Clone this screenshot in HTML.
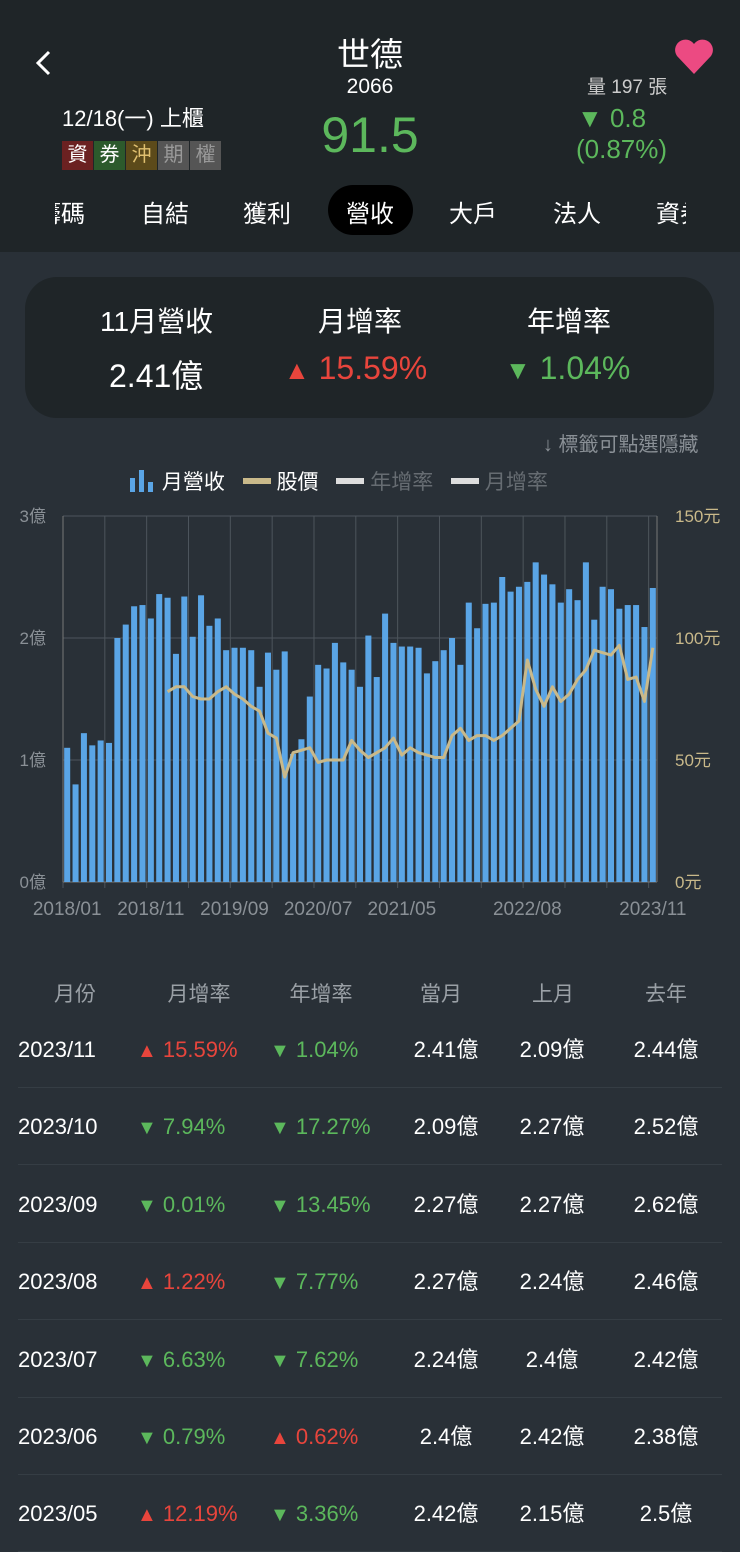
<!DOCTYPE html>
<html><head><meta charset="utf-8">
<style>
*{margin:0;padding:0;box-sizing:border-box}
body{width:740px;height:1531px;overflow:hidden;background:#293037;font-family:"Liberation Sans","Noto Sans CJK TC",sans-serif;color:#fff;position:relative}
.abs{position:absolute;white-space:nowrap}
.hdr{position:absolute;left:0;top:0;width:740px;height:252px;background:#1f2528}
.tag{display:inline-block;width:31px;height:29px;line-height:29px;text-align:center;font-size:20px;margin-right:1px}
.tab{position:absolute;top:194px;font-size:24px;color:#fff;white-space:nowrap}
.card{position:absolute;left:25px;top:277px;width:689px;height:141px;border-radius:32px;background:#1f2528}
.g{color:#5cb85c}.r{color:#e8453c}
.th{position:absolute;top:978px;font-size:21px;color:#9aa0a6;transform:translateX(-50%);white-space:nowrap}
.row{position:absolute;left:18px;width:704px;height:77px;border-bottom:1px solid #353d44}
.row span{position:absolute;top:24px;height:30px;line-height:30px;font-size:22px;white-space:nowrap}
.row small{font-size:20px;line-height:20px;vertical-align:baseline}
</style></head><body>
<div class="hdr"></div>
<svg class="abs" style="left:32px;top:48px" width="24" height="30"><polyline points="17,4 6,15 17,26" fill="none" stroke="#fff" stroke-width="3"/></svg>
<div class="abs" style="left:0;width:740px;text-align:center;top:28px;font-size:33px">世德</div>
<div class="abs" style="left:0;width:740px;text-align:center;top:75px;font-size:21px">2066</div>
<div class="abs g" style="left:0;width:740px;text-align:center;top:106px;font-size:50px">91.5</div>
<div class="abs" style="left:62px;top:101px;font-size:22px">12/18(一) 上櫃</div>
<div class="abs" style="left:62px;top:141px"><span class="tag" style="background:#6b2121">資</span><span class="tag" style="background:#2c5a2c">券</span><span class="tag" style="background:#5c4a1a;color:#e0c070">沖</span><span class="tag" style="background:#555;color:#999">期</span><span class="tag" style="background:#555;color:#999">權</span></div>
<svg class="abs" style="left:673px;top:38px" width="42" height="38"><path d="M21 36 L4 18 A10 10 0 0 1 21 6 A10 10 0 0 1 38 18 Z" fill="#ec4a82"/></svg>
<div class="abs" style="left:587px;top:72px;font-size:19px;color:#ccc">量 197 張</div>
<div class="abs g" style="left:577px;top:103px;font-size:26px">▼ 0.8</div>
<div class="abs g" style="left:576px;top:134px;font-size:26px">(0.87%)</div>
<div class="abs" style="left:328px;top:185px;width:85px;height:50px;border-radius:25px;background:#000"></div>
<div class="tab" style="left:55px;width:30px;overflow:hidden"><span style="display:inline-block;margin-left:-18px">籌碼</span></div>
<div class="tab" style="left:141px">自結</div>
<div class="tab" style="left:243px">獲利</div>
<div class="tab" style="left:346px">營收</div>
<div class="tab" style="left:449px">大戶</div>
<div class="tab" style="left:553px">法人</div>
<div class="tab" style="left:656px;width:30px;overflow:hidden">資券</div>

<div class="card"></div>
<div class="abs" style="left:100px;top:300px;font-size:28px">11月營收</div>
<div class="abs" style="left:109px;top:351px;font-size:32px">2.41億</div>
<div class="abs" style="left:318px;top:300px;font-size:28px">月增率</div>
<div class="abs r" style="left:284px;top:350px;font-size:32px"><span style="font-size:26px">▲</span> 15.59%</div>
<div class="abs" style="left:527px;top:300px;font-size:28px">年增率</div>
<div class="abs g" style="left:505px;top:350px;font-size:32px"><span style="font-size:26px">▼</span> 1.04%</div>
<div class="abs" style="left:543px;top:428px;font-size:20px;color:#8a9096">↓ 標籤可點選隱藏</div>
<div class="abs" style="left:130px;top:466px;font-size:21px">
<span><svg width="26" height="22" style="vertical-align:-3px"><rect x="0" y="8" width="5" height="14" fill="#5aa5e6"/><rect x="9" y="0" width="5" height="22" fill="#5aa5e6"/><rect x="18" y="12" width="5" height="10" fill="#5aa5e6"/></svg> 月營收</span>
<span style="margin-left:12px"><span style="display:inline-block;width:28px;height:6px;background:#c9b98a;vertical-align:5px"></span> 股價</span>
<span style="margin-left:12px;color:#666c72"><span style="display:inline-block;width:28px;height:6px;background:#ddd;vertical-align:5px"></span> 年增率</span>
<span style="margin-left:12px;color:#666c72"><span style="display:inline-block;width:28px;height:6px;background:#ddd;vertical-align:5px"></span> 月增率</span>
</div>
<svg id="chart" class="abs" style="left:0;top:500px" width="740" height="430"></svg>

<div class="th" style="left:75px">月份</div>
<div class="th" style="left:199px">月增率</div>
<div class="th" style="left:321px">年增率</div>
<div class="th" style="left:441px">當月</div>
<div class="th" style="left:553px">上月</div>
<div class="th" style="left:666px">去年</div>
<div id="rows"></div>
<script>
const months=[];for(let y=2018;y<=2023;y++)for(let m=1;m<=12;m++){if(y===2023&&m>11)break;months.push(y+'/'+String(m).padStart(2,'0'));}
const revenue=[1.10,0.80,1.22,1.12,1.16,1.14,2.00,2.11,2.26,2.27,2.16,2.36,2.33,1.87,2.34,2.01,2.35,2.10,2.16,1.90,1.92,1.92,1.90,1.60,1.88,1.74,1.89,1.05,1.17,1.52,1.78,1.75,1.96,1.80,1.74,1.60,2.02,1.68,2.20,1.96,1.93,1.93,1.92,1.71,1.81,1.90,2.00,1.78,2.29,2.08,2.28,2.29,2.50,2.38,2.42,2.46,2.62,2.52,2.44,2.29,2.40,2.31,2.62,2.15,2.42,2.40,2.24,2.27,2.27,2.09,2.41];
const priceStart=12;
const price=[78,80,80,76,75,75,78,80,77,75,72,70,61,59,43,53,54,55,49,50,50,50,58,54,51,53,55,59,52,55,53,52,51,51,60,63,58,60,60,58,60,63,66,91,79,72,80,74,77,83,87,95,94,93,97,83,84,74,96];
const xLabels=['2018/01','2018/11','2019/09','2020/07','2021/05','2022/08','2023/11'];
const leftTicks=['0億','1億','2億','3億'];
const rightTicks=['0元','50元','100元','150元'];
const NS='http://www.w3.org/2000/svg',svg=document.getElementById('chart');
const L=63,R=657,T=16,B=382,bw=(R-L)/revenue.length;
const xs=i=>L+bw*(i+0.5), yl=v=>B-(B-T)*v/3, yr=v=>B-(B-T)*v/150;
function mk(t,a,p){const e=document.createElementNS(NS,t);for(const k in a)e.setAttribute(k,a[k]);(p||svg).appendChild(e);return e;}
leftTicks.forEach((t,i)=>{const y=yl(i);
const gl=mk('line',{x1:L,x2:R,y1:y,y2:y,stroke:'#4d555c','stroke-width':1});


const tx=mk('text',{x:46,y:y+6,'text-anchor':'end',fill:'#8a9096','font-size':17});tx.textContent=t;


const tr=mk('text',{x:675,y:y+6,fill:'#c9b98a','font-size':17});tr.textContent=rightTicks[i];


});
for(let i=0;i<=revenue.length;i+=5){const x=L+bw*i;
const v=mk('line',{x1:x,x2:x,y1:T,y2:B+6,stroke:'#4d555c'});

}
mk('line',{x1:L,x2:L,y1:T,y2:B,stroke:'#777'});mk('line',{x1:R,x2:R,y1:T,y2:B,stroke:'#777'});mk('line',{x1:L,x2:R,y1:B,y2:B,stroke:'#777'});
revenue.forEach((v,i)=>{const r=mk('rect',{x:xs(i)-bw*0.36,y:yl(v),width:bw*0.72,height:B-yl(v),fill:'#5aa5e6'});

});
const pl=mk('polyline',{points:price.map((p,i)=>xs(i+priceStart)+','+yr(p)).join(' '),fill:'none',stroke:'#c9b98a','stroke-width':3,'stroke-linejoin':'round'});


const labIdx=xLabels.map(l=>months.indexOf(l));
labIdx.forEach((ix,k)=>{const t=mk('text',{x:xs(ix),y:B+33,'text-anchor':'middle',fill:'#8a9096','font-size':19});t.textContent=xLabels[k];

});
const rowData=[['2023/11','▲','15.59%','▼','1.04%','2.41億','2.09億','2.44億'],['2023/10','▼','7.94%','▼','17.27%','2.09億','2.27億','2.52億'],['2023/09','▼','0.01%','▼','13.45%','2.27億','2.27億','2.62億'],['2023/08','▲','1.22%','▼','7.77%','2.27億','2.24億','2.46億'],['2023/07','▼','6.63%','▼','7.62%','2.24億','2.4億','2.42億'],['2023/06','▼','0.79%','▲','0.62%','2.4億','2.42億','2.38億'],['2023/05','▲','12.19%','▼','3.36%','2.42億','2.15億','2.5億']];
const rows=document.getElementById('rows');
rowData.forEach((d,i)=>{const r=document.createElement('div');r.className='row';r.style.top=(1011+i*77.4)+'px';


const c1=d[1]==='▲'?'r':'g',c2=d[3]==='▲'?'r':'g';
r.innerHTML=`<span style="left:0">${d[0]}</span><span class="${c1}" style="left:119px"><small>${d[1]}</small> ${d[2]}</span><span class="${c2}" style="left:252px"><small>${d[3]}</small> ${d[4]}</span><span style="left:428px;transform:translateX(-50%)">${d[5]}</span><span style="left:534px;transform:translateX(-50%)">${d[6]}</span><span style="left:648px;transform:translateX(-50%)">${d[7]}</span>`;
rows.appendChild(r);});
</script>
</body></html>
